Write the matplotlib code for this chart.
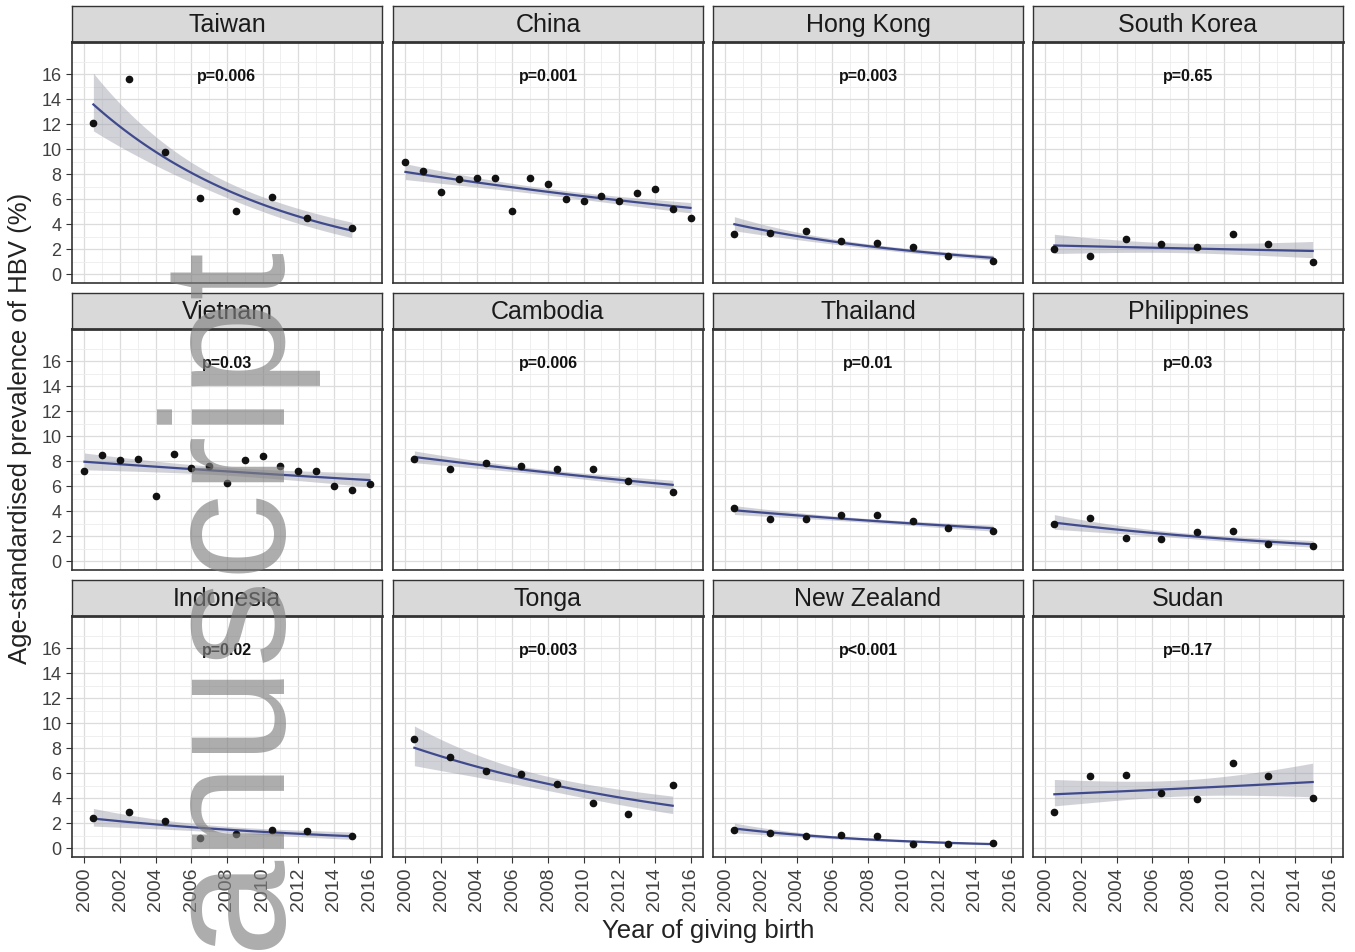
import numpy as np
import matplotlib
matplotlib.use("Agg")
import matplotlib.pyplot as plt
from matplotlib.ticker import FixedLocator

plt.rcParams['font.family'] = ['Liberation Sans', 'DejaVu Sans']

countries = ["Taiwan", "China", "Hong Kong", "South Korea",
             "Vietnam", "Cambodia", "Thailand", "Philippines",
             "Indonesia", "Tonga", "New Zealand", "Sudan"]
p_labels = ["p=0.006", "p=0.001", "p=0.003", "p=0.65",
            "p=0.03", "p=0.006", "p=0.01", "p=0.03",
            "p=0.02", "p=0.003", "p<0.001", "p=0.17"]

# survey years (two-yearly series and the annual ones)
years_biennial = [2000.5, 2002.5, 2004.5, 2006.5, 2008.5, 2010.5, 2012.5, 2015]
years_annual = list(range(2000, 2017))

# age-standardised prevalence (%)
taiwan = [12.1, 15.6, 9.8, 6.1, 5.1, 6.15, 4.5, 3.7]
china = [9.0, 8.3, 6.6, 7.6, 7.7, 7.7, 5.1, 7.7, 7.2, 6.0, 5.9, 6.3, 5.9, 6.5, 6.8, 5.2, 4.5]
hong_kong = [3.2, 3.3, 3.5, 2.7, 2.5, 2.2, 1.45, 1.1]
south_korea = [2.05, 1.45, 2.85, 2.45, 2.15, 3.2, 2.45, 1.0]
vietnam = [7.2, 8.5, 8.1, 8.2, 5.2, 8.6, 7.5, 7.6, 6.3, 8.1, 8.4, 7.6, 7.25, 7.2, 6.0, 5.7, 6.2]
cambodia = [8.2, 7.4, 7.85, 7.6, 7.35, 7.4, 6.45, 5.55]
thailand = [4.3, 3.35, 3.35, 3.7, 3.7, 3.25, 2.7, 2.45]
philippines = [2.95, 3.5, 1.9, 1.8, 2.35, 2.4, 1.4, 1.25]
indonesia = [2.45, 2.9, 2.2, 0.8, 1.15, 1.5, 1.4, 1.0]
tonga = [8.75, 7.3, 6.15, 5.95, 5.15, 3.65, 2.75, 5.1]
new_zealand = [1.45, 1.25, 0.95, 1.1, 1.0, 0.35, 0.35, 0.4]
sudan = [2.9, 5.75, 5.9, 4.45, 3.95, 6.8, 5.75, 4.0]

series = [
    (years_biennial, taiwan), (years_annual, china),
    (years_biennial, hong_kong), (years_biennial, south_korea),
    (years_annual, vietnam), (years_biennial, cambodia),
    (years_biennial, thailand), (years_biennial, philippines),
    (years_biennial, indonesia), (years_biennial, tonga),
    (years_biennial, new_zealand), (years_biennial, sudan),
]

x_breaks = list(range(2000, 2017, 2))
y_breaks = list(range(0, 17, 2))


def loglinear_fit(x, y, grid, z=1.28):
    # log-linear trend with a confidence band, like geom_smooth on a log link
    x = np.asarray(x, float)
    ly = np.log(np.asarray(y, float))
    xm = x.mean()
    X = np.column_stack([np.ones_like(x), x - xm])
    beta = np.linalg.lstsq(X, ly, rcond=None)[0]
    resid = ly - X @ beta
    s2 = resid @ resid / (len(x) - 2)
    cov = s2 * np.linalg.inv(X.T @ X)
    G = np.column_stack([np.ones_like(grid), grid - xm])
    fit = G @ beta
    se = np.sqrt(np.einsum('ij,jk,ik->i', G, cov, G))
    return np.exp(fit), np.exp(fit - z * se), np.exp(fit + z * se)


W, H = 1355, 952
fig = plt.figure(figsize=(W / 100, H / 100), dpi=100)

col_left = [72, 393, 713, 1033]
strip_top = [6, 293, 580]
pw, sh, ph = 310, 36, 241
dark = "#333333"

for i, name in enumerate(countries):
    r, k = divmod(i, 4)
    x0 = col_left[k]
    top = strip_top[r]
    ax = fig.add_axes([x0 / W, 1 - (top + sh + ph) / H, pw / W, ph / H])
    sax = fig.add_axes([x0 / W, 1 - (top + sh) / H, pw / W, sh / H])

    # strip
    sax.set_facecolor("#D9D9D9")
    sax.set_xticks([])
    sax.set_yticks([])
    for s in sax.spines.values():
        s.set_color(dark)
        s.set_linewidth(1.0)
    sax.spines['bottom'].set_linewidth(2.0)
    sax.text(0.5, 0.47, name, ha='center', va='center', fontsize=18,
             color="#1A1A1A", transform=sax.transAxes)

    xs, ys = series[i]
    grid = np.linspace(min(xs), max(xs), 120)
    fit, lo, hi = loglinear_fit(xs, ys, grid)
    ax.fill_between(grid, lo, hi, color="#9A9AAA", alpha=0.45, lw=0, zorder=2)
    ax.plot(grid, fit, color="#3F4A8C", lw=1.6, zorder=3)
    ax.plot(xs, ys, 'o', color="#111111", ms=4.5, zorder=4)
    ax.text(2008, 15.8, p_labels[i], ha='center', va='center',
            fontsize=11.5, fontweight='bold', color="#111111")

    ax.set_xlim(1999.3, 2016.7)
    ax.set_ylim(-0.7, 18.6)
    ax.xaxis.set_major_locator(FixedLocator(x_breaks))
    ax.xaxis.set_minor_locator(FixedLocator([b + 1 for b in x_breaks]))
    ax.yaxis.set_major_locator(FixedLocator(y_breaks))
    ax.yaxis.set_minor_locator(FixedLocator([b + 1 for b in y_breaks]))
    ax.grid(which='major', color="#DCDCDC", lw=0.9, zorder=0)
    ax.grid(which='minor', color="#EDEDED", lw=0.6, zorder=0)
    ax.set_axisbelow(True)
    for s in ax.spines.values():
        s.set_color(dark)
        s.set_linewidth(1.2)
    ax.tick_params(which='major', direction='out', length=4, color=dark,
                   labelcolor="#404040")
    ax.tick_params(axis='y', labelsize=13)
    ax.tick_params(axis='x', labelsize=14)
    ax.tick_params(which='minor', length=0)
    if k != 0:
        ax.tick_params(axis='y', labelleft=False, length=0)
    if r != 2:
        ax.tick_params(axis='x', labelbottom=False, length=0)
    else:
        for lab in ax.get_xticklabels():
            lab.set_rotation(90)

fig.text(20 / W, 1 - 428 / H, "Age-standardised prevalence of HBV (%)",
         rotation=90, ha='center', va='center', fontsize=18.5, color="#222222")
fig.text(708 / W, 1 - 931 / H, "Year of giving birth",
         ha='center', va='center', fontsize=18.5, color="#222222")

# watermark
fig.text(274 / W, 1 - 240 / H, "manuscript", rotation=90, rotation_mode='anchor',
         ha='right', va='baseline', fontsize=125, color="#808080", alpha=0.65,
         zorder=10)

fig.savefig("out.png", dpi=100)
